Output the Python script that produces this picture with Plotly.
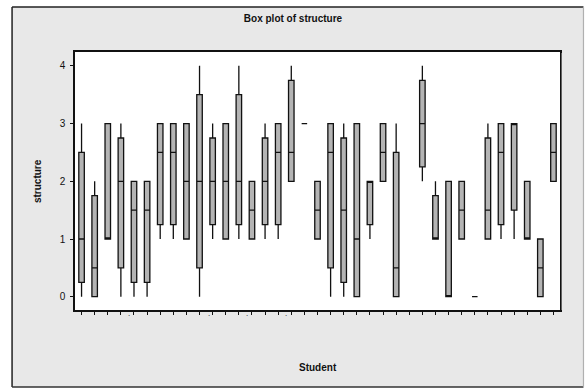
import plotly.graph_objects as go

# Five-number summaries of "structure" per student (student 26 has no data)
students = [1, 2, 3, 4, 5, 6, 7, 8, 9, 10, 11, 12, 13, 14, 15, 16, 17, 18,
            19, 20, 21, 22, 23, 24, 25, 27, 28, 29, 30, 31, 32, 33, 34, 35, 36, 37]
low = [0, 0, 1, 0, 0, 0, 1, 1, 1, 0, 1, 1, 1, 1, 1, 1, 2, 3,
       1, 0, 0, 0, 1, 2, 0, 2, 1, 0, 1, 0, 1, 1, 1, 1, 0, 2]
q1 = [0.25, 0, 1, 0.5, 0.25, 0.25, 1.25, 1.25, 1, 0.5, 1.25, 1, 1.25, 1, 1.25, 1.25, 2, 3,
      1, 0.5, 0.25, 0, 1.25, 2, 0, 2.25, 1, 0, 1, 0, 1, 1.25, 1.5, 1, 0, 2]
med = [1, 0.5, 1, 2, 1.5, 1.5, 2.5, 2.5, 2, 2, 2, 2, 2, 1.5, 2, 2.5, 2.5, 3,
       1.5, 2.5, 1.5, 1, 2, 2.5, 0.5, 3, 1, 0, 1.5, 0, 1.5, 2.5, 3, 1, 0.5, 2.5]
q3 = [2.5, 1.75, 3, 2.75, 2, 2, 3, 3, 3, 3.5, 2.75, 3, 3.5, 2, 2.75, 3, 3.75, 3,
      2, 3, 2.75, 3, 2, 3, 2.5, 3.75, 1.75, 2, 2, 0, 2.75, 3, 3, 2, 1, 3]
high = [3, 2, 3, 3, 2, 2, 3, 3, 3, 4, 3, 3, 4, 2, 3, 3, 4, 3,
        2, 3, 3, 3, 2, 3, 3, 4, 2, 2, 2, 0, 3, 3, 3, 2, 1, 3]

all_students = list(range(1, 38))
y_ticks = [0, 1, 2, 3, 4]
dot_positions = [4.6, 10.7, 13.6, 16.6]

FONT = "Liberation Sans"
INK = "#111111"

fig = go.Figure()
fig.add_trace(go.Box(
    x=students, q1=q1, median=med, q3=q3,
    lowerfence=low, upperfence=high,
    boxpoints=False, whiskerwidth=0, width=0.42,
    fillcolor="#b4b4b4",
    line=dict(color=INK, width=1.3),
    showlegend=False, hoverinfo="skip",
))

# plot-area geometry in pixels
L, R, T, B = 75, 560.5, 52, 310
W, H = 586, 389
pw, ph = R - L, B - T

def px_x(x):
    return (x - L) / pw

def px_y(y):
    return (B - y) / ph

fx0, fx1, fy0, fy1 = px_x(12), px_x(584), px_y(387), px_y(7)

def edge(xa, ya, xb, yb, color, width):
    return dict(type="line", xref="paper", yref="paper", layer="below",
                x0=xa, y0=ya, x1=xb, y1=yb, line=dict(color=color, width=width))

shapes = [
    # grey outer panel
    dict(type="rect", xref="paper", yref="paper", layer="below",
         x0=fx0, x1=fx1, y0=fy0, y1=fy1,
         fillcolor="#e8e8e8", line=dict(width=0)),
    # panel frame: dark left/top/bottom, light right
    edge(fx0, fy0, fx0, fy1, "#222222", 1.5),
    edge(fx0, fy1, fx1, fy1, "#222222", 1.5),
    edge(fx0, fy0, fx1, fy0, "#333333", 1.5),
    edge(fx1, fy0, fx1, fy1, "#b0b0b0", 1.2),
    # white data region
    dict(type="rect", xref="paper", yref="paper", layer="below",
         x0=0, x1=1, y0=0, y1=1, fillcolor="white", line=dict(width=0)),
    # slight shadow on the right edge of the data region
    dict(type="line", xref="paper", yref="paper", layer="above",
         x0=px_x(R + 1.5), x1=px_x(R + 1.5), y0=px_y(B), y1=px_y(T + 1),
         line=dict(color="#666666", width=1)),
]

annotations = [
    dict(text="<b>structure</b>", xref="paper", yref="paper",
         x=px_x(37), y=0.5, textangle=-90, showarrow=False,
         font=dict(family=FONT, size=10, color=INK),
         xanchor="center", yanchor="middle"),
    dict(text="<b>Student</b>", xref="paper", yref="paper",
         x=0.5, y=px_y(367), showarrow=False,
         font=dict(family=FONT, size=10, color=INK),
         xanchor="center", yanchor="middle"),
]
for xd in dot_positions:
    annotations.append(dict(text=".", xref="x", yref="paper", x=xd, y=px_y(313),
                            showarrow=False, font=dict(family=FONT, size=8, color=INK),
                            xanchor="center", yanchor="middle"))

fig.update_layout(
    width=W, height=H,
    margin=dict(l=L, r=W - R, t=T, b=H - B, pad=0),
    paper_bgcolor="white",
    plot_bgcolor="rgba(0,0,0,0)",
    title=dict(text="<b>Box plot of structure</b>", x=293 / W, y=1 - 18 / H,
               xref="container", yref="container", xanchor="center", yanchor="middle",
               font=dict(family=FONT, size=10, color=INK)),
    shapes=shapes,
    annotations=annotations,
    xaxis=dict(range=[0.5, 37.5], tickmode="array", tickvals=all_students,
               ticktext=[""] * len(all_students), ticks="outside", ticklen=3,
               tickwidth=1, tickcolor=INK, showgrid=False, zeroline=False,
               showline=True, linecolor=INK, linewidth=1.5, mirror=True),
    yaxis=dict(range=[-0.23, 4.24], tickmode="array", tickvals=y_ticks,
               ticks="outside", ticklen=3, tickwidth=1, tickcolor=INK,
               ticklabelstandoff=3,
               tickfont=dict(family=FONT, size=10, color=INK),
               showgrid=False, zeroline=False,
               showline=True, linecolor=INK, linewidth=1.5, mirror=True),
)

fig.write_html("out.html")
